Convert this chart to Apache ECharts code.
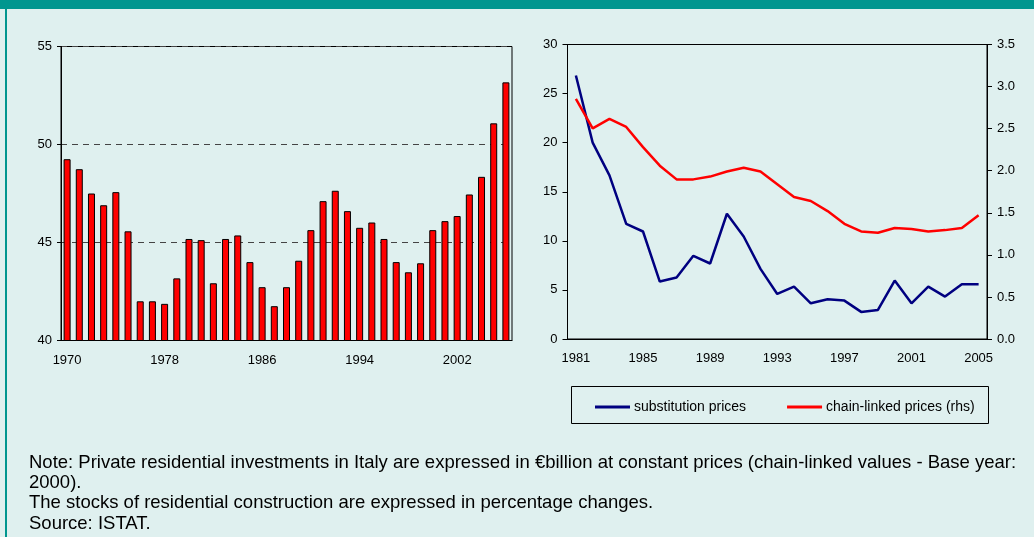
<!DOCTYPE html>
<html>
<head>
<meta charset="utf-8">
<script src="https://cdn.jsdelivr.net/npm/echarts@6/dist/echarts.min.js"></script>
<style>
  html, body { margin: 0; padding: 0; background: #dff0ef; }
  #chart { width: 1034px; height: 537px; }
</style>
</head>
<body>
<div id="chart"></div>
<script>
// left panel: private residential investments, 1970-2006
const invYears = []
for (let y = 1970; y <= 2006; y++) invYears.push(String(y))
const investments = [
  49.25, 48.74, 47.5, 46.9, 47.57, 45.57, 42.0, 42.0, 41.87, 43.17,
  45.18, 45.12, 42.92, 45.18, 45.36, 44.0, 42.72, 41.75, 42.72, 44.07,
  45.63, 47.11, 47.64, 46.6, 45.75, 46.02, 45.18, 44.0, 43.48, 43.94,
  45.63, 46.09, 46.35, 47.45, 48.35, 51.08, 53.17
]

// right panel: stocks of residential construction, 1981-2005
const stockYears = []
for (let y = 1981; y <= 2005; y++) stockYears.push(String(y))
const substitutionPrices = [
  26.84, 20.0, 16.67, 11.73, 10.95, 5.85, 6.26, 8.47, 7.69, 12.76,
  10.44, 7.14, 4.59, 5.34, 3.64, 4.05, 3.91, 2.76, 2.96, 5.95,
  3.64, 5.34, 4.32, 5.58, 5.58
]
const chainLinkedPrices = [
  2.853, 2.504, 2.615, 2.52, 2.28, 2.06, 1.897, 1.897, 1.93, 1.99,
  2.036, 1.99, 1.84, 1.687, 1.64, 1.52, 1.369, 1.278, 1.262, 1.32,
  1.306, 1.278, 1.294, 1.32, 1.472
]

const noteLines = [
  'Note: Private residential investments in Italy are expressed in €billion at constant prices (chain-linked values - Base year:',
  '2000).',
  'The stocks of residential construction are expressed in percentage changes.',
  'Source: ISTAT.'
]

const font = 'Liberation Sans'
const teal = '#00968f'

const chart = echarts.init(document.getElementById('chart'))

// 坐标轴公用样式
const axisText = { color: '#000', fontFamily: font, fontSize: 13 }
const blackLine = { lineStyle: { color: '#000', width: 1 } }

const noteGraphics = noteLines.map((t, i) => ({
  type: 'text',
  x: 29,
  y: 463 + i * 20.2,
  style: { text: t, fill: '#000', font: '18.5px "Liberation Sans"', textVerticalAlign: 'middle' }
}))

const option = {
  backgroundColor: '#dff0ef',
  animation: false,
  grid: [
    { left: 61, right: 522, top: 46.5, bottom: 196.5, show: true, borderColor: '#000', borderWidth: 1, backgroundColor: 'transparent' },
    { left: 567.5, right: 47, top: 44.5, bottom: 198, show: true, borderColor: '#000', borderWidth: 1, backgroundColor: 'transparent' }
  ],
  legend: {
    left: 590,
    top: 395,
    itemWidth: 35,
    itemHeight: 3,
    itemGap: 41,
    icon: 'rect',
    textStyle: { color: '#000', fontFamily: font, fontSize: 14, padding: [0, 0, 0, -1] },
    data: ['substitution prices', 'chain-linked prices (rhs)']
  },
  xAxis: [
    {
      gridIndex: 0,
      type: 'category',
      data: invYears,
      boundaryGap: true,
      axisLine: blackLine,
      axisTick: { interval: 7, length: 4, lineStyle: { color: '#000' } },
      axisLabel: Object.assign({ interval: 7, margin: 13 }, axisText)
    },
    {
      gridIndex: 1,
      type: 'category',
      data: stockYears,
      boundaryGap: true,
      axisLine: blackLine,
      axisTick: { interval: 0, length: 4, lineStyle: { color: '#000' } },
      axisLabel: Object.assign({ interval: 3, margin: 13 }, axisText)
    }
  ],
  yAxis: [
    {
      gridIndex: 0,
      type: 'value',
      min: 40,
      max: 55,
      interval: 5,
      axisLine: Object.assign({ show: true }, blackLine),
      axisTick: { show: true, length: 4, lineStyle: { color: '#000' } },
      axisLabel: Object.assign({ margin: 9 }, axisText),
      splitLine: { show: true, lineStyle: { color: '#444', type: [6, 5], width: 1 } }
    },
    {
      gridIndex: 1,
      type: 'value',
      min: 0,
      max: 30,
      interval: 5,
      axisLine: Object.assign({ show: true }, blackLine),
      axisTick: { show: true, length: 5, lineStyle: { color: '#000' } },
      axisLabel: Object.assign({ margin: 10 }, axisText),
      splitLine: { show: false }
    },
    {
      gridIndex: 1,
      type: 'value',
      position: 'right',
      min: 0,
      max: 3.5,
      interval: 0.5,
      axisLine: Object.assign({ show: true }, blackLine),
      axisTick: { show: true, length: 5, lineStyle: { color: '#000' } },
      axisLabel: Object.assign({ margin: 10, formatter: (v) => v.toFixed(1) }, axisText),
      splitLine: { show: false }
    }
  ],
  series: [
    {
      name: 'investments',
      type: 'bar',
      xAxisIndex: 0,
      yAxisIndex: 0,
      data: investments,
      barWidth: 7,
      itemStyle: { color: '#ff0000', borderColor: '#000', borderWidth: 1 }
    },
    {
      name: 'substitution prices',
      type: 'line',
      xAxisIndex: 1,
      yAxisIndex: 1,
      data: substitutionPrices,
      symbol: 'none',
      lineStyle: { color: '#000080', width: 2.5 },
      itemStyle: { color: '#000080' }
    },
    {
      name: 'chain-linked prices (rhs)',
      type: 'line',
      xAxisIndex: 1,
      yAxisIndex: 2,
      data: chainLinkedPrices,
      symbol: 'none',
      lineStyle: { color: '#ff0000', width: 2.5 },
      itemStyle: { color: '#ff0000' }
    }
  ],
  graphic: [
    { type: 'rect', left: 0, top: 0, shape: { width: 1034, height: 9 }, style: { fill: teal } },
    { type: 'rect', left: 5, top: 9, shape: { width: 2, height: 528 }, style: { fill: teal } },
    { type: 'rect', left: 569, top: 384, shape: { width: 417, height: 37 }, style: { fill: 'none', stroke: '#000', lineWidth: 1 } }
  ].concat(noteGraphics)
}

chart.setOption(option)
</script>
</body>
</html>
